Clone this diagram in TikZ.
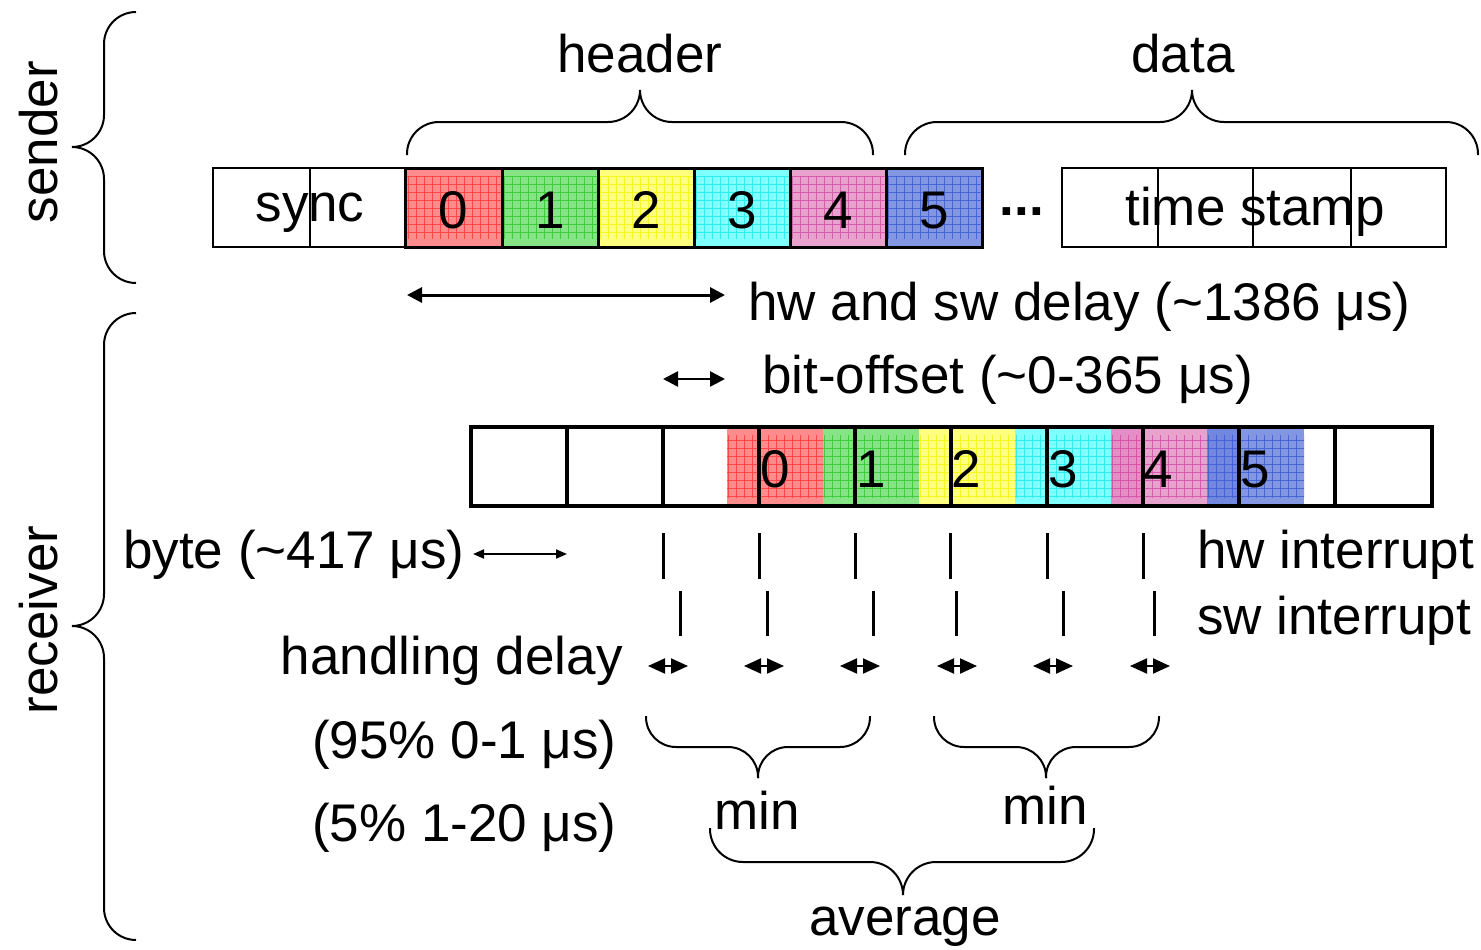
\documentclass[tikz,border=0pt]{standalone}
\usepackage{fontspec}
\setmainfont{Liberation Sans}
\usetikzlibrary{arrows.meta}
\definecolor{rfill}{HTML}{FF8C8C}\definecolor{rline}{HTML}{FF2A2A}
\definecolor{gfill}{HTML}{86E386}\definecolor{gline}{HTML}{22C422}
\definecolor{yfill}{HTML}{FFFF80}\definecolor{yline}{HTML}{F2F200}
\definecolor{cfill}{HTML}{80FFFF}\definecolor{cline}{HTML}{10E6E6}
\definecolor{pfill}{HTML}{E8A2CE}\definecolor{pline}{HTML}{D03FA0}
\definecolor{bfill}{HTML}{8296E2}\definecolor{bline}{HTML}{2F52D2}
\newcommand{\pbox}[6]{%
  \begin{scope}
    \clip (#1,#2) rectangle (#3,#4);
    \fill[#5] (#1,#2) rectangle (#3,#4);
    \draw[#6, line width=0.5pt, opacity=0.7, step=8pt] (#1-8,#2+8) grid (#3+8,#4-8);
  \end{scope}}
\begin{document}
\begin{tikzpicture}[x=1pt,y=-1pt,
  font=\fontsize{53}{62}\selectfont,
  every node/.style={inner sep=0pt},
  lbl/.style={anchor=base},
  lblw/.style={anchor=base west},
  lble/.style={anchor=base east},
  bracel/.style={line width=2pt, rounded corners=31pt},
  bigarrow/.style={line width=3pt, {Triangle[length=15pt,width=15pt]}-{Triangle[length=15pt,width=15pt]}},
  midarrow/.style={line width=2.5pt, {Triangle[length=15pt,width=15pt]}-{Triangle[length=15pt,width=15pt]}},
  smallarrow/.style={line width=2pt, {Triangle[length=11pt,width=9pt]}-{Triangle[length=11pt,width=9pt]}},
  hdarrow/.style={line width=2pt, {Triangle[length=17pt,width=15pt]}-{Triangle[length=17pt,width=15pt]}},
  tick/.style={line width=3pt}]
\useasboundingbox (0,0) rectangle (1481,950);

% ---------------- sender row ----------------
\pbox{405}{168}{502}{247}{rfill}{rline}
\pbox{502}{168}{598}{247}{gfill}{gline}
\pbox{598}{168}{694}{247}{yfill}{yline}
\pbox{694}{168}{790}{247}{cfill}{cline}
\pbox{790}{168}{886}{247}{pfill}{pline}
\pbox{886}{168}{982}{247}{bfill}{bline}
\draw[line width=2pt] (213,168) rectangle (405,247);
\draw[line width=2pt] (310,168) -- (310,247);
\draw[line width=3pt] (405,168) rectangle (982,247);
\foreach \x in {502,598,694,790,886} \draw[line width=3pt] (\x,168) -- (\x,247);
\draw[line width=2pt] (1062,168) rectangle (1446,247);
\foreach \x in {1158,1253,1351} \draw[line width=2pt] (\x,168) -- (\x,247);

\node[lbl] (sync) at (310,221) {sync};
\node[lbl] (s0) at (453.5,228) {0};
\node[lbl] (s1) at (550,228) {1};
\node[lbl] (s2) at (646,228) {2};
\node[lbl] (s3) at (742,228) {3};
\node[lbl] (s4) at (838,228) {4};
\node[lbl] (s5) at (934,228) {5};
\node[lbl] (dots) at (1022,215) {\bfseries ...};
\node[lbl] (ts) at (1255,225) {time stamp};

% braces top
\node[lbl] (header) at (640,73) {header};
\node[lbl] (data) at (1183,73) {data};
\draw[bracel, rounded corners=32pt] (407,155) -- (407,122) -- (640,122) -- (640,90);
\draw[bracel, rounded corners=32pt] (873,155) -- (873,122) -- (640,122) -- (640,90);
\draw[bracel, rounded corners=32pt] (905,155) -- (905,122) -- (1192,122) -- (1192,90);
\draw[bracel, rounded corners=32pt] (1478,155) -- (1478,122) -- (1192,122) -- (1192,90);

% side braces
\draw[bracel, rounded corners=32pt] (136,12) -- (104,12) -- (104,147) -- (72,147);
\draw[bracel, rounded corners=32pt] (136,283) -- (104,283) -- (104,147) -- (72,147);
\draw[bracel, rounded corners=32pt] (136,313) -- (104,313) -- (104,626) -- (72,626);
\draw[bracel, rounded corners=32pt] (136,940) -- (104,940) -- (104,626) -- (72,626);
\node[lbl, rotate=90] (sender) at (57,142) {sender};
\node[lbl, rotate=90] (receiver) at (57,620) {receiver};

% ---------------- delay arrows ----------------
\coordinate (hwL) at (407,295); \coordinate (hwR) at (725,295);
\draw[bigarrow] (hwL) -- (hwR);
\node[lblw] (hwsw) at (748,320) {hw and sw delay (\textasciitilde1386 μs)};
\coordinate (boL) at (663,379); \coordinate (boR) at (725,379);
\draw[midarrow] (boL) -- (boR);
\node[lblw] (bitoff) at (762,393) {bit-offset (\textasciitilde0-365 μs)};

% ---------------- receiver row ----------------
\pbox{727}{427}{823}{506}{rfill}{rline}
\pbox{823}{427}{919}{506}{gfill}{gline}
\pbox{919}{427}{1015}{506}{yfill}{yline}
\pbox{1015}{427}{1111}{506}{cfill}{cline}
\pbox{1111}{427}{1207}{506}{pfill}{pline}
\pbox{1207}{427}{1304}{506}{bfill}{bline}
\fill[pline, opacity=0.2] (1111,427) rectangle (1143,506);
\fill[bline, opacity=0.2] (1207,427) rectangle (1239,506);
\draw[line width=4.5pt] (471,427) rectangle (1432,506);
\foreach \x in {567,663,759,855,951,1047,1143,1239,1335} \draw[line width=4.5pt] (\x,427) -- (\x,506);
\node[lblw] (r0) at (760,487) {0};
\node[lblw] (r1) at (856,487) {1};
\node[lblw] (r2) at (951,487) {2};
\node[lblw] (r3) at (1048,487) {3};
\node[lblw] (r4) at (1143,487) {4};
\node[lblw] (r5) at (1240,487) {5};

% ---------------- byte ----------------
\node[lblw] (byte) at (123,568) {byte (\textasciitilde417 μs)};
\coordinate (byL) at (473,554); \coordinate (byR) at (567,554);
\draw[smallarrow] (byL) -- (byR);

% interrupts
\foreach \x in {663,759,855,950,1047,1143} \draw[tick] (\x,533) -- (\x,579);
\foreach \x in {680,767,873,956,1063,1154} \draw[tick] (\x,591) -- (\x,636);
\node[lblw] (hwint) at (1197,568) {hw interrupt};
\node[lblw] (swint) at (1197,634) {sw interrupt};

% handling delay
\node[lble] (hd) at (623,674) {handling delay};
\foreach \x in {668,764,860,957,1053,1150} \draw[hdarrow] (\x-20,666) -- (\x+20,666);
\node[lblw] (p95) at (312,758) {(95\% 0-1 μs)};
\node[lblw] (p5) at (312,841) {(5\% 1-20 μs)};

% min / average braces
\draw[bracel, rounded corners=30pt] (646,716) -- (646,747) -- (758,747) -- (758,778);
\draw[bracel, rounded corners=30pt] (870,716) -- (870,747) -- (758,747) -- (758,778);
\draw[bracel, rounded corners=30pt] (934,716) -- (934,747) -- (1046,747) -- (1046,778);
\draw[bracel, rounded corners=30pt] (1159,716) -- (1159,747) -- (1046,747) -- (1046,778);
\node[lbl] (min1) at (757,829) {min};
\node[lbl] (min2) at (1045,824) {min};
\draw[bracel, rounded corners=33pt] (710,828) -- (710,862) -- (903,862) -- (903,895);
\draw[bracel, rounded corners=33pt] (1094,828) -- (1094,862) -- (903,862) -- (903,895);
\node[lbl] (avg) at (905,935) {average};
\end{tikzpicture}
\end{document}
